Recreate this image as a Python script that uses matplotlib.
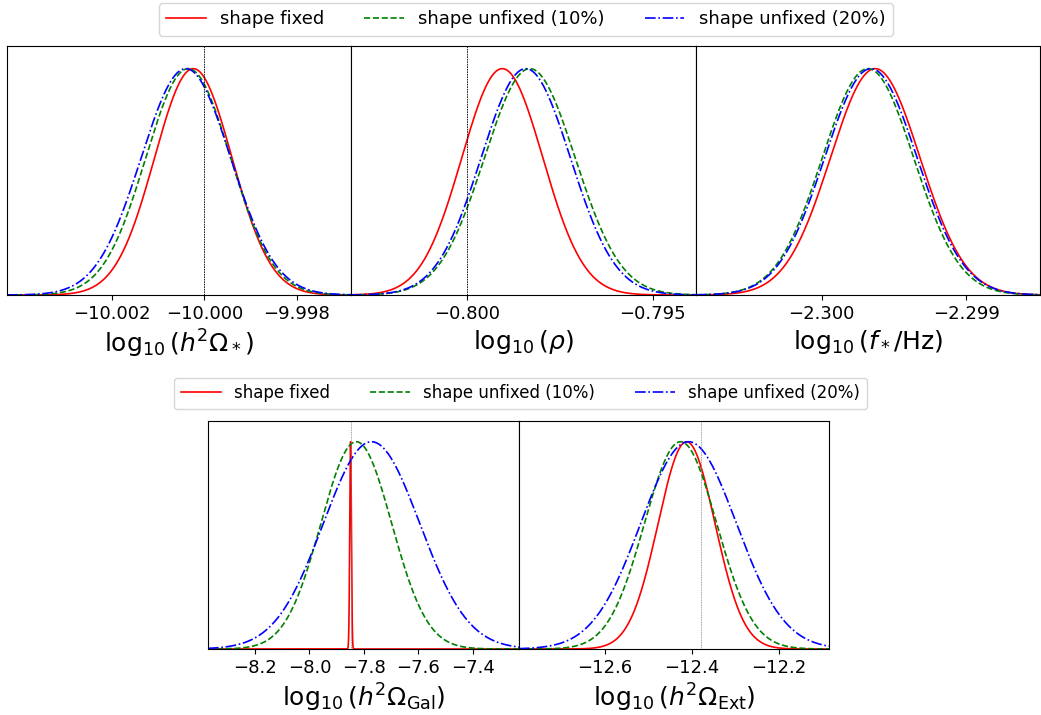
# posterior comparison for the three shape assumptions
import numpy as np
import matplotlib.pyplot as plt

labels = ['shape fixed', 'shape unfixed (10%)', 'shape unfixed (20%)']
colors = ['red', 'green', 'blue']
styles = ['-', '--', '-.']

# parameters, top row first then bottom row
param_names = [r'$\log_{10}(h^2\Omega_*)$', r'$\log_{10}(\rho)$', r'$\log_{10}(f_*/{\rm Hz})$',
               r'$\log_{10}(h^2\Omega_{\rm Gal})$', r'$\log_{10}(h^2\Omega_{\rm Ext})$']
true_values = [-10.0, -0.8, None, -7.847, -12.379]

# peak location / width of each marginal posterior
fixed_mean = [-10.00024, -0.79905, -2.29963, -7.849, -12.4126]
fixed_sigma = [0.00084, 0.00109, 0.00031, 0.003, 0.0654]
unfixed10_mean = [-10.00035, -0.79831, -2.29968, -7.828, -12.4264]
unfixed10_sigma = [0.00092, 0.00122, 0.000316, 0.13, 0.083]
unfixed20_mean = [-10.0004, -0.79842, -2.29966, -7.772, -12.408]
unfixed20_sigma = [0.00097, 0.0012, 0.00032, 0.177, 0.110]

xlims = [(-10.00428, -9.99682), (-0.80312, -0.79384), (-2.30087, -2.29849),
         (-8.373, -7.230), (-12.798, -12.085)]
xticks = [[-10.002, -10.000, -9.998], [-0.800, -0.795], [-2.300, -2.299],
          [-8.2, -8.0, -7.8, -7.6, -7.4], [-12.6, -12.4, -12.2]]
tickfmt = ['%.3f', '%.3f', '%.3f', '%.1f', '%.1f']

fig = plt.figure(figsize=(10.41, 7.15), dpi=100)
W, H = 1041., 715.
boxes = [(7, 46, 344, 249), (351, 46, 345, 249), (696, 46, 344, 249),
         (208, 421, 311, 228), (519, 421, 310, 228)]

means = [fixed_mean, unfixed10_mean, unfixed20_mean]
sigmas = [fixed_sigma, unfixed10_sigma, unfixed20_sigma]

for i, (x0, y0, w, h) in enumerate(boxes):
    ax = fig.add_axes([x0 / W, 1 - (y0 + h) / H, w / W, h / H])
    lo, hi = xlims[i]
    x = np.linspace(lo, hi, 40000)
    for k in range(3):
        pdf = np.exp(-0.5 * ((x - means[k][i]) / sigmas[k][i]) ** 2)
        ax.plot(x, pdf, color=colors[k], ls=styles[k], lw=1.2, label=labels[k])
    if true_values[i] is not None:
        ax.axvline(true_values[i], color='k' if i < 3 else 'gray', ls=':' if i >= 3 else '--',
                   lw=0.6, dashes=(2, 1) if i < 3 else (1, 1))
    ax.set_xlim(lo, hi)
    ax.set_ylim(0, 1.1)
    ax.set_yticks([])
    ax.set_xticks(xticks[i])
    ax.set_xticklabels([(tickfmt[i] % t).replace('-', '\u2212') for t in xticks[i]])
    ax.tick_params(axis='x', labelsize=13)
    ax.set_xlabel(param_names[i], fontsize=18, labelpad=4)
    if i == 0:
        h0, l0 = ax.get_legend_handles_labels()

fig.legend(h0, l0, loc='center', bbox_to_anchor=(0.505, 0.973), ncol=3, fontsize=13,
           handlelength=2.2, columnspacing=2.2)
fig.legend(h0, l0, loc='center', bbox_to_anchor=(0.500, 0.450), ncol=3, fontsize=12,
           handlelength=2.4, columnspacing=2.4)

plt.savefig('out.png', dpi=100)
